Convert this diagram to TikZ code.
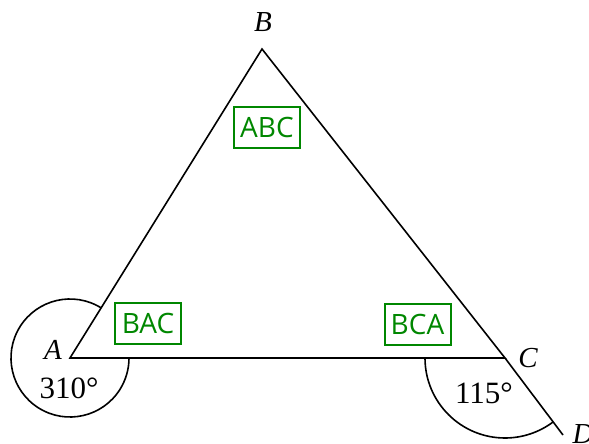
\documentclass[tikz,border=0pt]{standalone}
\usepackage{fontspec}
\setmainfont{Liberation Serif}
\newfontfamily\boxfont{Open Sans}
\usepackage{xcolor}
\definecolor{boxgreen}{rgb}{0.0, 0.53, 0.0}
\usetikzlibrary{positioning}
\tikzset{
  side/.style={draw,line width=1.6pt,line join=miter},
  anglearc/.style={draw,line width=1.6pt},
  vertex/.style={font=\fontsize{29}{29}\selectfont\itshape,inner sep=0pt},
  measure/.style={font=\fontsize{31}{31}\selectfont,inner sep=0pt},
  tag/.style={rectangle,draw=boxgreen,line width=2pt,text=boxgreen,
    font=\boxfont\fontsize{28}{28}\selectfont,minimum width=66pt,minimum height=41pt,inner sep=2pt}
}

\begin{document}
\begin{tikzpicture}[x=1pt,y=-1pt]
  \clip (0,0) rectangle (589,444);
  \useasboundingbox (0,0) rectangle (589,444);

  % corners of the triangle
  \coordinate (A) at (70,358);
  \coordinate (B) at (262,49);
  \coordinate (C) at (505,358);
  \coordinate (D) at (563,435);

  \draw[side] (A) -- (B) -- (C) -- cycle;
  \draw[side] (C) -- (D);

  % angle arcs
  \draw[anglearc] (A) ++(-58:59) arc[start angle=-58,end angle=-360,radius=59];
  \draw[anglearc] (C) ++(-80,0) arc[start angle=180,end angle=53,radius=80];

  % labels
  \node[vertex] (lA) at (53,350) {A};
  \node[vertex] (lB) at (263,22) {B};
  \node[vertex] (lC) at (528,358) {C};
  \node[vertex] (lD) at (583,434) {D};
  \node[measure] (mA) at (69,388) {310°};
  \node[measure] (mC) at (484,393) {115°};

  \node[tag] (abc) at (267,127) {ABC};
  \node[tag] (bac) at (148,323.5) {BAC};
  \node[tag] (bca) at (417.5,324.5) {BCA};
\end{tikzpicture}
\end{document}
